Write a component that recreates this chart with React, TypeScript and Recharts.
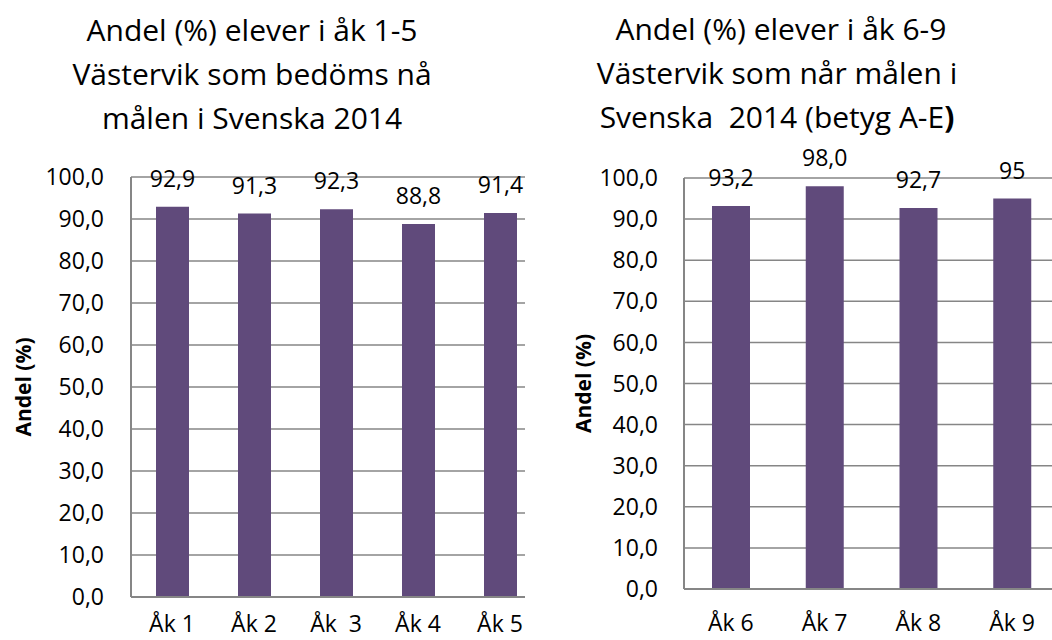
import { BarChart, Bar, XAxis, YAxis, CartesianGrid, LabelList } from "recharts"

// Åk 1-5
const lowerGrades = ["Åk 1", "Åk 2", "Åk\u00a0 3", "Åk 4", "Åk 5"]
const lowerShares = [92.9, 91.3, 92.3, 88.8, 91.4]

// Åk 6-9
const upperGrades = ["Åk 6", "Åk 7", "Åk 8", "Åk 9"]
const upperShares = [93.2, 98.0, 92.7, 95]
const upperShareLabels = ["93,2", "98,0", "92,7", "95"]

const yTicks = [0, 10, 20, 30, 40, 50, 60, 70, 80, 90, 100]

const fmt = (v: number) => v.toFixed(1).replace(".", ",")

const lowerData = lowerGrades.map((grade, i) => ({
    grade,
    share: lowerShares[i],
    label: fmt(lowerShares[i]),
}))

const upperData = upperGrades.map((grade, i) => ({
    grade,
    share: upperShares[i],
    label: upperShareLabels[i],
}))

const BAR = "#604a7b"
const GRID = "#868686"

interface PanelProps {
    data: { grade: string; share: number; label: string }[]
    left: number
    clipWidth: number
    chartWidth: number
    top: number
    right: number
    axisWidth: number
    xAxisHeight: number
    barSize: number
    yTickGap: number
    xTickGap: number
}

function Panel({ data, left, clipWidth, chartWidth, top, right, axisWidth, xAxisHeight, barSize, yTickGap, xTickGap }: PanelProps) {
    return (
        <div style={{ position: "absolute", left, top: 0, width: clipWidth, height: 640, overflow: "hidden" }}>
            <BarChart width={chartWidth} height={640} data={data} margin={{ top, right, left: 0, bottom: 0 }}>
                <CartesianGrid vertical={false} stroke={GRID} strokeWidth={1.5} />
                <XAxis
                    dataKey="grade"
                    height={xAxisHeight}
                    tickLine={false}
                    tickSize={0}
                    tickMargin={xTickGap}
                    interval={0}
                    axisLine={{ stroke: GRID, strokeWidth: 2 }}
                    tick={{ fontSize: 23, fill: "#000000" }}
                />
                <YAxis
                    width={axisWidth}
                    domain={[0, 100]}
                    ticks={yTicks}
                    interval={0}
                    tickLine={false}
                    tickSize={0}
                    tickMargin={yTickGap}
                    tickFormatter={fmt}
                    axisLine={{ stroke: GRID, strokeWidth: 2 }}
                    tick={{ fontSize: 23, fill: "#000000" }}
                    label={{
                        content: (props: any) => {
                            const vb = props.viewBox
                            const cx = vb.x + 23
                            const cy = vb.y + vb.height / 2
                            return (
                                <text
                                    x={cx}
                                    y={cy}
                                    transform={`rotate(-90 ${cx} ${cy})`}
                                    textAnchor="middle"
                                    dominantBaseline="central"
                                    fontSize={21}
                                    fontWeight="bold"
                                    fill="#000000"
                                >
                                    Andel (%)
                                </text>
                            )
                        },
                    }}
                />
                <Bar dataKey="share" fill={BAR} barSize={barSize} isAnimationActive={false}>
                    <LabelList dataKey="label" position="top" offset={20} fontSize={23} fill="#000000" />
                </Bar>
            </BarChart>
        </div>
    )
}

const titleStyle = {
    position: "absolute" as const,
    top: 8,
    fontSize: 30,
    lineHeight: "44px",
    textAlign: "center" as const,
    whiteSpace: "pre" as const,
    color: "#000000",
}

export default function App() {
    return (
        <div
            style={{
                position: "absolute",
                left: 0,
                top: 0,
                width: 1052,
                height: 640,
                overflow: "hidden",
                background: "#ffffff",
                fontFamily: "'Open Sans', sans-serif",
            }}
        >
            <Panel
                data={lowerData}
                left={0}
                clipWidth={525}
                chartWidth={560}
                top={177}
                right={19}
                axisWidth={131}
                xAxisHeight={43}
                barSize={33}
                yTickGap={27}
                xTickGap={19}
            />
            <Panel
                data={upperData}
                left={560}
                clipWidth={492}
                chartWidth={520}
                top={178}
                right={21}
                axisWidth={124}
                xAxisHeight={51}
                barSize={38}
                yTickGap={26}
                xTickGap={26}
            />
            <div style={{ ...titleStyle, left: 0, width: 504 }}>
                {"Andel (%) elever i åk 1-5\nVästervik som bedöms nå\nmålen i Svenska 2014"}
            </div>
            <div style={{ ...titleStyle, left: 555, width: 444, top: 7 }}>
                <div>{" Andel (%) elever i åk 6-9"}</div>
                <div>{"Västervik som når målen i"}</div>
                <div>
                    {"Svenska  2014 (betyg A-E"}
                    <b>)</b>
                </div>
            </div>
        </div>
    )
}
